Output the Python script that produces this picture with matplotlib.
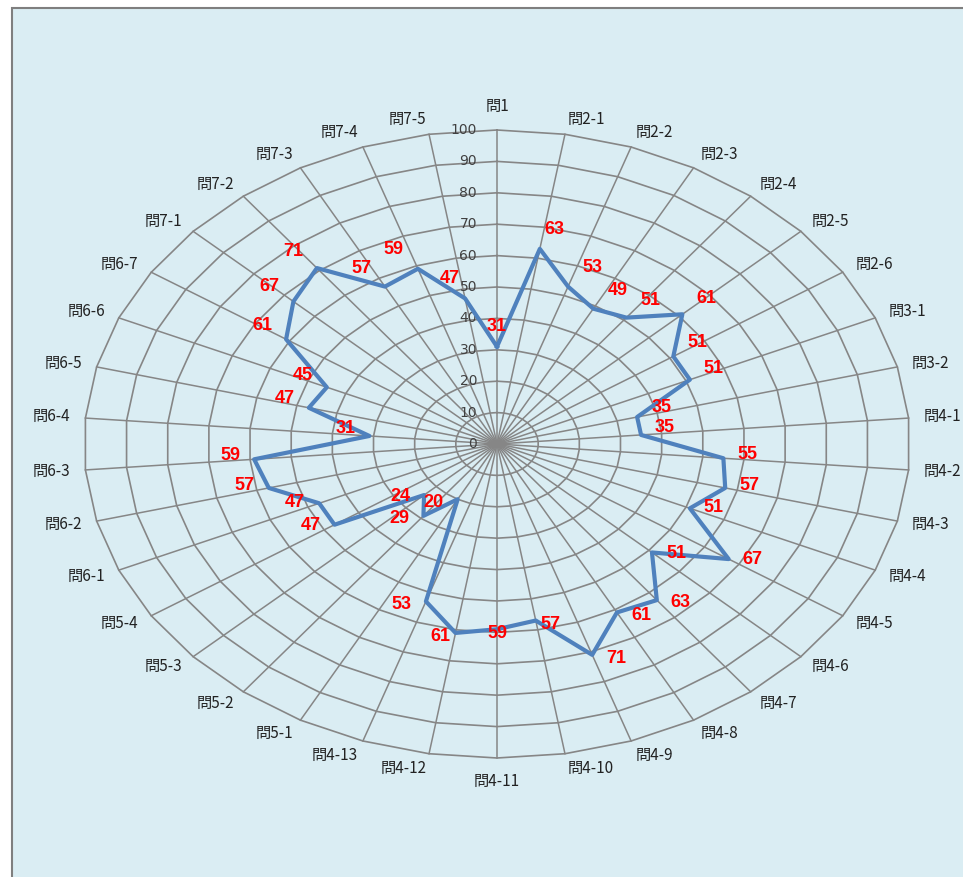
import numpy as np
import matplotlib
matplotlib.use("Agg")
import matplotlib.pyplot as plt
from matplotlib.patches import Rectangle

plt.rcParams['font.family'] = ['Noto Sans CJK JP', 'DejaVu Sans']

# categories, clockwise from the top
questions = ['問1',
             '問2-1', '問2-2', '問2-3', '問2-4', '問2-5', '問2-6',
             '問3-1', '問3-2',
             '問4-1', '問4-2', '問4-3', '問4-4', '問4-5', '問4-6', '問4-7',
             '問4-8', '問4-9', '問4-10', '問4-11', '問4-12', '問4-13',
             '問5-1', '問5-2', '問5-3', '問5-4',
             '問6-1', '問6-2', '問6-3', '問6-4', '問6-5', '問6-6', '問6-7',
             '問7-1', '問7-2', '問7-3', '問7-4', '問7-5']
scores = [31,
          63, 53, 49, 51, 61, 51,
          51, 35,
          35, 55, 57, 51, 67, 51, 63, 61, 71, 57, 59, 61, 53,
          20, 29, 24, 47,
          47, 57, 59, 31, 47, 45, 61,
          67, 71, 57, 59, 47]
ring_levels = [10, 20, 30, 40, 50, 60, 70, 80, 90, 100]
r_ticks = [0, 10, 20, 30, 40, 50, 60, 70, 80, 90, 100]

BG = '#DAEDF3'
GRID = '#868686'
LINE = '#4F81BD'
PX = 72 / 100.0  # points per pixel

fig = plt.figure(figsize=(9.63, 8.77), dpi=100)
fig.patches.append(Rectangle((12 / 963, -0.02), 1.0, 1.02 - 8 / 877,
                             transform=fig.transFigure, facecolor=BG,
                             edgecolor='#7F7F7F', lw=1.5, zorder=-10))

ax = fig.add_axes([84 / 963, 119 / 877, 826 / 963, 628 / 877], projection='polar')
ax.set_aspect('auto')
ax.set_theta_zero_location('N')
ax.set_theta_direction(-1)
ax.set_ylim(0, 100)
ax.patch.set_visible(False)
ax.spines['polar'].set_visible(False)
ax.grid(False)
ax.set_xticks([])
ax.set_yticks([])

n = len(questions)
theta = np.linspace(0, 2 * np.pi, n, endpoint=False)
closed = np.append(theta, theta[0])

# polygon rings and spokes
for lv in ring_levels:
    ax.plot(closed, [lv] * (n + 1), color=GRID, lw=1.2, clip_on=False, zorder=1)
for t in theta:
    ax.plot([t, t], [0, 100], color=GRID, lw=1.1, clip_on=False, zorder=1)

# data line
ax.plot(closed, scores + [scores[0]], color=LINE, lw=3, clip_on=False, zorder=5)

# radial tick labels
for r in r_ticks:
    ax.annotate(str(r), (0, r), xytext=(-20 * PX, 0), textcoords='offset points',
                ha='right', va='center', fontsize=10, color='#404040',
                family=['DejaVu Sans'], annotation_clip=False)

# category labels
for t, q in zip(theta, questions):
    s, c = np.sin(t), np.cos(t)
    ha = 'left' if s > 0.05 else ('right' if s < -0.05 else 'center')
    va = 'center'
    if abs(s) <= 0.05:
        va = 'bottom' if c > 0 else 'top'
    ax.annotate(q, (t, 100), xytext=(15 * s * PX, 15 * c * PX),
                textcoords='offset points', ha=ha, va=va, fontsize=11,
                color='#222222', annotation_clip=False)

# value labels
for t, v in zip(theta, scores):
    s, c = np.sin(t), np.cos(t)
    dx = np.clip(90 * s, -24, 24)
    dy = 6 + 14 * c if c > 0 else 4 + 8 * c
    ax.annotate(str(v), (t, v), xytext=(dx * PX, dy * PX),
                textcoords='offset points', ha='center', va='center',
                fontsize=13, fontweight='bold', color='#FF0000',
                family=['Liberation Sans', 'DejaVu Sans'], zorder=6,
                annotation_clip=False)

fig.savefig('out.png', dpi=100)
